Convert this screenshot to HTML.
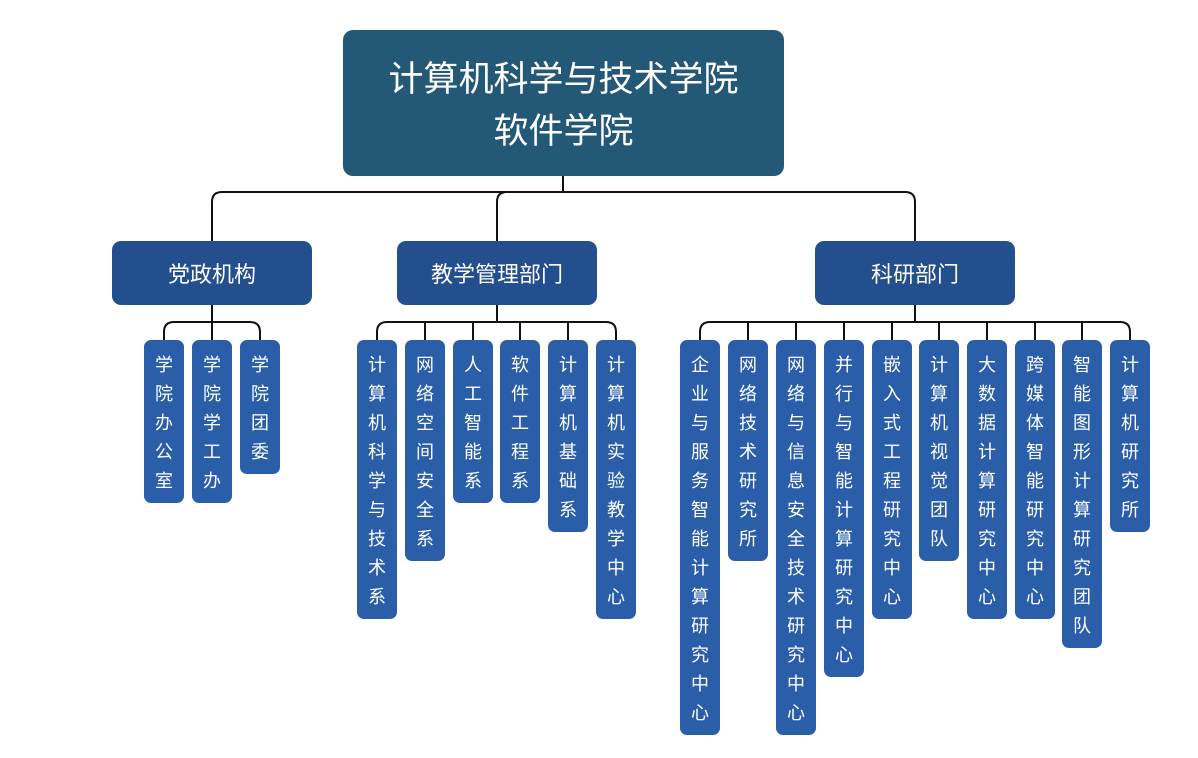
<!DOCTYPE html>
<html><head><meta charset="utf-8"><style>
body{margin:0;width:1198px;height:758px;background:#fff;position:relative;overflow:hidden;font-family:"Liberation Sans","Noto Sans CJK SC",sans-serif;}
.top{position:absolute;left:343px;top:30px;width:441px;height:146px;background:#245877;border-radius:10px;color:#fff;font-size:35px;text-align:center;line-height:52px;box-sizing:border-box;padding-top:24px;}
.l2{position:absolute;top:241px;width:200px;height:64px;background:#234f8e;border-radius:9px;color:#fff;font-size:22px;text-align:center;line-height:68px;}
.leaf{position:absolute;top:340px;width:40px;background:#2a5ea8;border-radius:7px;color:#fff;font-size:18px;text-align:center;line-height:29px;padding-top:11px;box-sizing:border-box;}
svg{position:absolute;left:0;top:0}
</style></head><body>
<svg width="1198" height="758" fill="none" stroke="#111" stroke-width="2">
<path d="M563 176V192"/>
<path d="M212 241V202Q212 192 222 192H905Q915 192 915 202V241"/>
<path d="M497 241V202Q497 192 507 192"/>
<path d="M212 305V322M164 340V332Q164 322 174 322H250Q260 322 260 332V340M212 322V340"/>
<path d="M497 305V322M377 340V332Q377 322 387 322H606Q616 322 616 332V340M425 322V340M473 322V340M520 322V340M568 322V340"/>
<path d="M915 305V322M700 340V332Q700 322 710 322H1120Q1130 322 1130 332V340M748 322V340M796 322V340M844 322V340M892 322V340M939 322V340M987 322V340M1035 322V340M1082 322V340"/>
</svg>
<div class="top">计算机科学与技术学院<br>软件学院</div>
<div class="l2" style="left:112px">党政机构</div>
<div class="l2" style="left:397px">教学管理部门</div>
<div class="l2" style="left:815px">科研部门</div>
<div class="leaf" style="left:144px;height:163px">学<br>院<br>办<br>公<br>室</div>
<div class="leaf" style="left:192px;height:163px">学<br>院<br>学<br>工<br>办</div>
<div class="leaf" style="left:240px;height:134px">学<br>院<br>团<br>委</div>
<div class="leaf" style="left:357px;height:279px">计<br>算<br>机<br>科<br>学<br>与<br>技<br>术<br>系</div>
<div class="leaf" style="left:405px;height:221px">网<br>络<br>空<br>间<br>安<br>全<br>系</div>
<div class="leaf" style="left:453px;height:163px">人<br>工<br>智<br>能<br>系</div>
<div class="leaf" style="left:500px;height:163px">软<br>件<br>工<br>程<br>系</div>
<div class="leaf" style="left:548px;height:192px">计<br>算<br>机<br>基<br>础<br>系</div>
<div class="leaf" style="left:596px;height:279px">计<br>算<br>机<br>实<br>验<br>教<br>学<br>中<br>心</div>
<div class="leaf" style="left:680px;height:395px">企<br>业<br>与<br>服<br>务<br>智<br>能<br>计<br>算<br>研<br>究<br>中<br>心</div>
<div class="leaf" style="left:728px;height:221px">网<br>络<br>技<br>术<br>研<br>究<br>所</div>
<div class="leaf" style="left:776px;height:395px">网<br>络<br>与<br>信<br>息<br>安<br>全<br>技<br>术<br>研<br>究<br>中<br>心</div>
<div class="leaf" style="left:824px;height:337px">并<br>行<br>与<br>智<br>能<br>计<br>算<br>研<br>究<br>中<br>心</div>
<div class="leaf" style="left:872px;height:279px">嵌<br>入<br>式<br>工<br>程<br>研<br>究<br>中<br>心</div>
<div class="leaf" style="left:919px;height:221px">计<br>算<br>机<br>视<br>觉<br>团<br>队</div>
<div class="leaf" style="left:967px;height:279px">大<br>数<br>据<br>计<br>算<br>研<br>究<br>中<br>心</div>
<div class="leaf" style="left:1015px;height:279px">跨<br>媒<br>体<br>智<br>能<br>研<br>究<br>中<br>心</div>
<div class="leaf" style="left:1062px;height:308px">智<br>能<br>图<br>形<br>计<br>算<br>研<br>究<br>团<br>队</div>
<div class="leaf" style="left:1110px;height:192px">计<br>算<br>机<br>研<br>究<br>所</div>
</body></html>
